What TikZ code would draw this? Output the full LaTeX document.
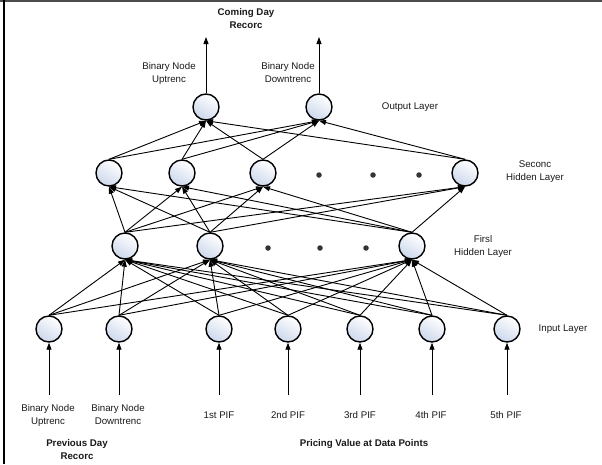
\documentclass[tikz,border=0pt]{standalone}
\usepackage{fontspec}
\setmainfont{Liberation Sans}
\usetikzlibrary{arrows.meta}
\definecolor{nodefill}{RGB}{205,216,236}
\definecolor{txt}{RGB}{25,25,25}
\tikzset{
  neuron/.style={circle, draw=black, line width=1.4pt, minimum size=26pt, inner sep=0pt,
    top color=white, bottom color=nodefill, shading angle=-30},
  conn/.style={line width=0.9pt, -{Triangle[length=7pt,width=5pt]}},
  ellip/.style={circle, fill=black!80, minimum size=5.5pt, inner sep=0pt},
  lbl/.style={font=\fontsize{9.7}{13}\selectfont, text=txt, align=center, inner sep=0pt},
  blbl/.style={font=\fontsize{9.7}{13}\selectfont\bfseries, text=txt, align=center, inner sep=0pt}
}
\begin{document}
\begin{tikzpicture}[x=1pt,y=-1pt]
\useasboundingbox (0,0) rectangle (602,464);
\draw[line width=2pt, black!70] (0,1) -- (602,1);
\draw[line width=1.3pt, black] (4,0) -- (4,464);

% output layer
\node[neuron] (o1) at (206,107) {};
\node[neuron] (o2) at (319,107) {};
% second hidden layer
\node[neuron] (h2a) at (109,173) {};
\node[neuron] (h2b) at (182,173) {};
\node[neuron] (h2c) at (263,173) {};
\node[neuron] (h2d) at (465,173) {};
\node[ellip] (d1) at (319,175) {};
\node[ellip] (d2) at (373,175) {};
\node[ellip] (d3) at (419,175) {};
% first hidden layer
\node[neuron] (h1a) at (125,246) {};
\node[neuron] (h1b) at (210,246) {};
\node[neuron] (h1c) at (412,246) {};
\node[ellip] (e1) at (268,248) {};
\node[ellip] (e2) at (320,248) {};
\node[ellip] (e3) at (366,248) {};
% input layer
\foreach \n/\x in {1/49,2/119,3/219,4/288,5/360,6/432,7/507}{
  \node[neuron] (i\n) at (\x,329) {};
  \coordinate (s\n) at (\x,395);
  \draw[conn] (s\n) -- (i\n.south);
}
\coordinate (t1) at (206,37);
\coordinate (t2) at (319,37);
\draw[conn] (o1.north) -- (t1);
\draw[conn] (o2.north) -- (t2);

% connections
\foreach \s in {h2a,h2b,h2c,h2d}{
  \foreach \t in {o1,o2}{ \draw[conn] (\s.north) -- (\t.south); }
}
\foreach \s in {h1a,h1b,h1c}{
  \foreach \t in {h2a,h2b,h2c,h2d}{ \draw[conn] (\s.north) -- (\t.south); }
}
\foreach \s in {i1,i2,i3,i4,i5,i6,i7}{
  \foreach \t in {h1a,h1b,h1c}{ \draw[conn] (\s.north) -- (\t.south); }
}

% labels
\node[blbl] (cd) at (246,19) {Coming Day\\Recorc};
\node[lbl] (bu) at (169,73) {Binary Node\\Uptrenc};
\node[lbl] (bd) at (288,73) {Binary Node\\Downtrenc};
\node[lbl] (ol) at (410,107) {Output Layer};
\node[lbl] (sl) at (535,172) {Seconc\\Hidden Layer};
\node[lbl] (fl) at (483,246) {Firsl\\Hidden Layer};
\node[lbl] (il) at (563,329) {Input Layer};
\node[lbl] (ib1) at (48,415) {Binary Node\\Uptrenc};
\node[lbl] (ib2) at (118,415) {Binary Node\\Downtrenc};
\node[lbl] (p1) at (219,415) {1st PIF};
\node[lbl] (p2) at (288,415) {2nd PIF};
\node[lbl] (p3) at (360,415) {3rd PIF};
\node[lbl] (p4) at (431,415) {4th PIF};
\node[lbl] (p5) at (506,415) {5th PIF};
\node[blbl] (pd) at (77,450) {Previous Day\\Recorc};
\node[blbl] (pv) at (364,444) {Pricing Value at Data Points};
\end{tikzpicture}
\end{document}
